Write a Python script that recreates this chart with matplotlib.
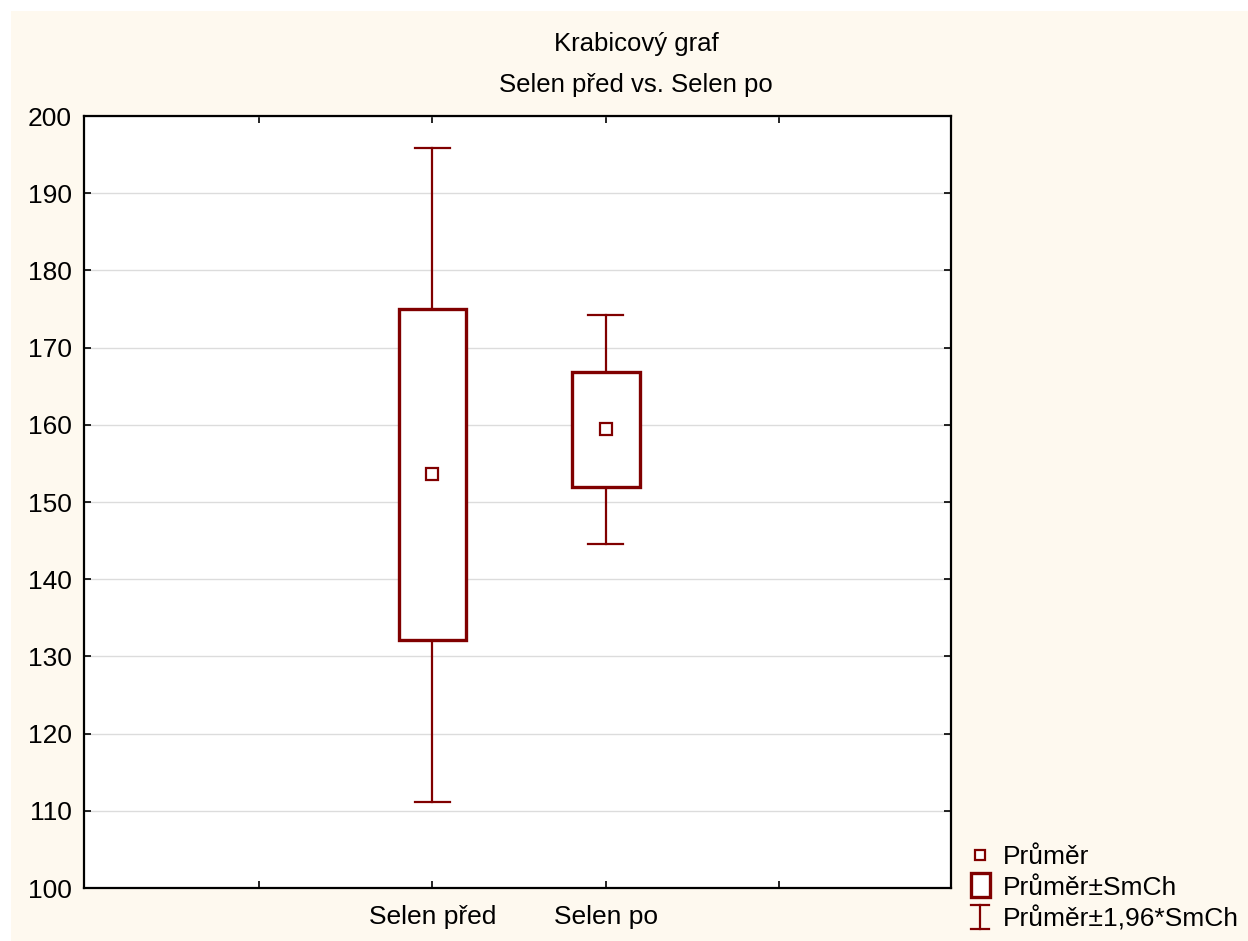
import matplotlib
matplotlib.use("Agg")
import matplotlib.pyplot as plt
from matplotlib.patches import Rectangle
from matplotlib.lines import Line2D
from matplotlib.legend_handler import HandlerBase

plt.rcParams['font.family'] = ['Liberation Sans', 'DejaVu Sans']

categories = ['Selen před', 'Selen po']
means = [153.6, 159.4]
se_low = [132.1, 151.9]
se_high = [175.0, 166.9]
ci_low = [111.2, 144.6]
ci_high = [195.9, 174.2]

title1 = 'Krabicový graf'
title2 = 'Selen před vs. Selen po'
legend_labels = ['Průměr', 'Průměr±SmCh', 'Průměr±1,96*SmCh']

RED = '#800000'
CREAM = '#fef9ef'

fig = plt.figure(figsize=(12.48, 9.41), dpi=100, facecolor='white')
fig.patches.append(Rectangle((11 / 1248, 0), 1, 1 - 11 / 941, transform=fig.transFigure,
                             facecolor=CREAM, edgecolor='none', zorder=-10))

ax = fig.add_axes([84 / 1248, 1 - 888 / 941, (951 - 84) / 1248, (888 - 116) / 941])
ax.set_facecolor('white')
ax.set_xlim(-0.01, 4.992)
ax.set_ylim(100, 200)

positions = [2, 3]
box_w = 0.39
cap_w = 0.2
for i, x in enumerate(positions):
    ax.plot([x, x], [se_high[i], ci_high[i]], color=RED, lw=1.6, zorder=3)
    ax.plot([x, x], [ci_low[i], se_low[i]], color=RED, lw=1.6, zorder=3)
    ax.plot([x - cap_w / 2, x + cap_w / 2], [ci_high[i]] * 2, color=RED, lw=1.6, zorder=3)
    ax.plot([x - cap_w / 2, x + cap_w / 2], [ci_low[i]] * 2, color=RED, lw=1.6, zorder=3)
    ax.add_patch(Rectangle((x - box_w / 2, se_low[i]), box_w, se_high[i] - se_low[i],
                           facecolor='white', edgecolor=RED, lw=2.4, zorder=4))
    ax.plot([x], [means[i]], marker='s', ms=8, mfc='white', mec=RED, mew=1.6, zorder=5)

ax.set_yticks(range(100, 201, 10))
ax.set_xticks([1, 2, 3, 4])
ax.set_xticklabels(['', categories[0], categories[1], ''])
ax.yaxis.grid(True, color='#dcdcdc', lw=1.0)
ax.set_axisbelow(True)
ax.tick_params(direction='in', length=5, width=1.2, top=True, right=True,
               labelsize=19, colors='black')
ax.tick_params(axis='y', pad=9)
ax.tick_params(axis='x', pad=12)
for s in ax.spines.values():
    s.set_linewidth(1.6)
    s.set_color('black')

fig.text(636 / 1248, 1 - 44 / 941, title1, ha='center', va='center', fontsize=18.5)
fig.text(636 / 1248, 1 - 85 / 941, title2, ha='center', va='center', fontsize=18.5)


class HandlerMean(HandlerBase):
    def create_artists(self, legend, orig_handle, xdescent, ydescent, width, height, fontsize, trans):
        cx = width / 2 - xdescent
        cy = height / 2 - ydescent
        return [Line2D([cx], [cy], marker='s', ms=7, mfc='white', mec=RED, mew=1.6, transform=trans)]


class HandlerBox(HandlerBase):
    def create_artists(self, legend, orig_handle, xdescent, ydescent, width, height, fontsize, trans):
        w = width * 0.85
        h = height * 1.3
        cx = width / 2 - xdescent
        cy = height / 2 - ydescent
        return [Rectangle((cx - w / 2, cy - h / 2), w, h, facecolor='white', edgecolor=RED, lw=2.4,
                          transform=trans)]


class HandlerWhisk(HandlerBase):
    def create_artists(self, legend, orig_handle, xdescent, ydescent, width, height, fontsize, trans):
        cx = width / 2 - xdescent
        cy = height / 2 - ydescent
        h = height * 1.3
        cw = width * 0.4
        a = Line2D([cx, cx], [cy - h / 2, cy + h / 2], color=RED, lw=1.6, transform=trans)
        b = Line2D([cx - cw, cx + cw], [cy + h / 2] * 2, color=RED, lw=1.6, transform=trans)
        c = Line2D([cx - cw, cx + cw], [cy - h / 2] * 2, color=RED, lw=1.6, transform=trans)
        return [a, b, c]


class HMean: pass
class HBox: pass
class HWhisk: pass

leg = fig.legend([HMean(), HBox(), HWhisk()], legend_labels,
                 handler_map={HMean: HandlerMean(), HBox: HandlerBox(), HWhisk: HandlerWhisk()},
                 loc='upper left', bbox_to_anchor=(969 / 1248, 1 - 845 / 941),
                 frameon=False, fontsize=19, handlelength=0.85, handletextpad=0.45,
                 labelspacing=0.25, borderaxespad=0, borderpad=0)

fig.savefig('out.png', dpi=100, facecolor=fig.get_facecolor())
